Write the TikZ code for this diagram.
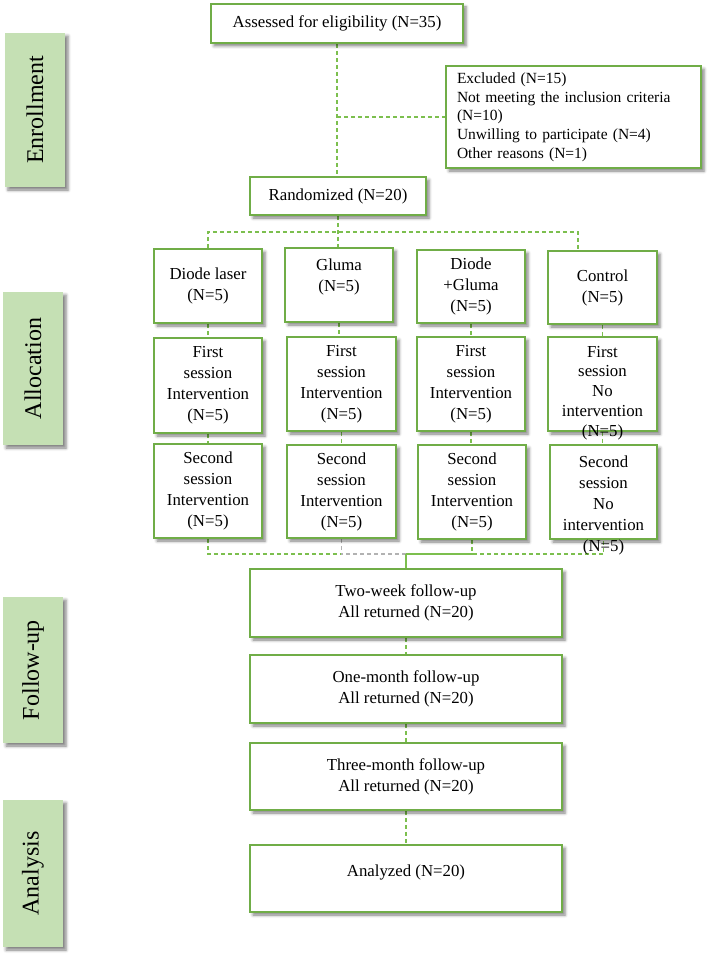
\documentclass[tikz,border=0pt]{standalone}
\usepackage{fontspec}
\usepackage{graphicx}
\setmainfont{Liberation Serif}
\usetikzlibrary{shadows.blur,backgrounds}
\definecolor{gborder}{HTML}{70AD47}
\definecolor{gdash}{HTML}{7CBF4E}
\definecolor{sidefill}{HTML}{C5E0B4}
\begin{document}
\begin{tikzpicture}[x=1pt,y=-1pt,
  shad/.style={blur shadow={shadow xshift=3pt, shadow yshift=-3pt, shadow blur radius=3pt, shadow opacity=50}},
  box/.style={draw=gborder, line width=1.8pt, fill=white, inner sep=0pt, align=center,
    font=\fontsize{16.8}{21}\selectfont, shad},
  side/.style={fill=sidefill, inner sep=0pt, minimum width=60pt,
    font=\fontsize{24}{28}\selectfont, shad},
  lbl/.style={inner sep=0pt, align=center, font=\fontsize{16.8}{21}\selectfont},
  dl/.style={draw=gdash, line width=1.2pt, dash pattern=on 4pt off 3pt},
  dlg/.style={draw=gray!60, line width=1.2pt, dash pattern=on 4pt off 3pt},
  sl/.style={draw=gdash, line width=1.2pt},
]
\useasboundingbox (0,0) rectangle (714,955);

% side labels
\node[side, minimum height=154pt] (s1) at (35,110) {\rotatebox{90}{Enrollment}};
\node[side, minimum height=153pt] (s2) at (33,368.5) {\rotatebox{90}{Allocation}};
\node[side, minimum height=146pt] (s3) at (33,670) {\rotatebox{90}{Follow-up}};
\node[side, minimum height=147pt] (s4) at (33,873.5) {\rotatebox{90}{Analysis}};

% enrollment
\node[box, minimum width=252pt, minimum height=39pt] (A) at (337,23.5) {Assessed for eligibility (N=35)};
\node[box, minimum width=255pt, minimum height=102pt, text width=233pt, align=left,
  font=\fontsize{15.5}{18.7}\selectfont] (E) at (573.5,117)
  {Excluded (N=15)\\Not meeting the inclusion criteria\\(N=10)\\Unwilling to participate (N=4)\\Other reasons (N=1)};
\node[box, minimum width=176pt, minimum height=38pt] (R) at (338,196) {Randomized (N=20)};

% allocation row 1
\node[box, minimum width=108pt, minimum height=74pt] (ga1) at (208,286) {Diode laser\\(N=5)};
\node[box, minimum width=108pt, minimum height=74pt] (ga2) at (339,285) {};
\node[lbl] (tga2) at (339,277) {Gluma\\(N=5)};
\node[box, minimum width=108pt, minimum height=73pt] (ga3) at (471,286.5) {Diode\\+Gluma\\(N=5)};
\node[box, minimum width=109pt, minimum height=73pt] (ga4) at (602.5,287.5) {Control\\(N=5)};

% row 2
\node[box, minimum width=108pt, minimum height=95pt] (gb1) at (208,385.5) {First\\session\\Intervention\\(N=5)};
\node[box, minimum width=109pt, minimum height=94pt] (gb2) at (341.5,384) {First\\session\\Intervention\\(N=5)};
\node[box, minimum width=108pt, minimum height=94pt] (gb3) at (471,384) {First\\session\\Intervention\\(N=5)};
\node[box, minimum width=109pt, minimum height=94pt] (gb4) at (602.5,384) {};
\node[lbl, font=\fontsize{16.8}{19.8}\selectfont] (tgb4) at (602.5,393) {First\\session\\No\\intervention\\(N=5)};

% row 3
\node[box, minimum width=108pt, minimum height=94pt] (gc1) at (208,491) {Second\\session\\Intervention\\(N=5)};
\node[box, minimum width=109pt, minimum height=93pt] (gc2) at (341.5,491.5) {Second\\session\\Intervention\\(N=5)};
\node[box, minimum width=108pt, minimum height=94pt] (gc3) at (472,492) {Second\\session\\Intervention\\(N=5)};
\node[box, minimum width=107pt, minimum height=94pt] (gc4) at (603.5,492) {};
\node[lbl] (tgc4) at (603.5,505) {Second\\session\\No\\intervention\\(N=5)};

% follow-up
\node[box, minimum width=312pt, minimum height=68pt] (T1) at (406,603) {Two-week follow-up\\All returned (N=20)};
\node[box, minimum width=312pt, minimum height=68pt] (T2) at (406,689) {One-month follow-up\\All returned (N=20)};
\node[box, minimum width=312pt, minimum height=67pt] (T3) at (406,776.5) {Three-month follow-up\\All returned (N=20)};
\node[box, minimum width=312pt, minimum height=67pt] (T4) at (406,878.5) {};
\node[lbl] (tT4) at (406,872) {Analyzed (N=20)};

\begin{scope}[on background layer]
\draw[dl] (A.south) -- (A.south |- R.north);
\draw[dl] (A.south |- E.west) -- (E.west);
\coordinate (split) at (338,232);
\coordinate (c4) at (578,251);
\draw[dl] (R.south) -- (split) -- (split |- ga2.north);
\draw[dl] (ga1.north) |- (split) -| (c4);
\foreach \c in {1,2,3,4} {
  \draw[dl] (ga\c.south) -- (ga\c.south |- gb\c.north);
  \draw[dl] (gb\c.south) -- (gb\c.south |- gc\c.north);
}
\coordinate (m) at (406,554);
\coordinate (mg) at (341,554);
\coordinate (ms) at (473,554);
\draw[dl] (gc1.south) |- (mg);
\draw[dlg] (gc2.south) |- (mg) -- (m);
\draw[sl] (m) -- (ms);
\draw[dl] (ms) -- (gc4.south |- m) -- (gc4.south);
\draw[dl] (gc3.south) -- (gc3.south |- m);
\draw[sl] (m) -- (T1.north);
\draw[dl] (T1.south) -- (T2.north);
\draw[dl] (T2.south) -- (T3.north);
\draw[dl] (T3.south) -- (T4.north);
\end{scope}
\end{tikzpicture}
\end{document}
